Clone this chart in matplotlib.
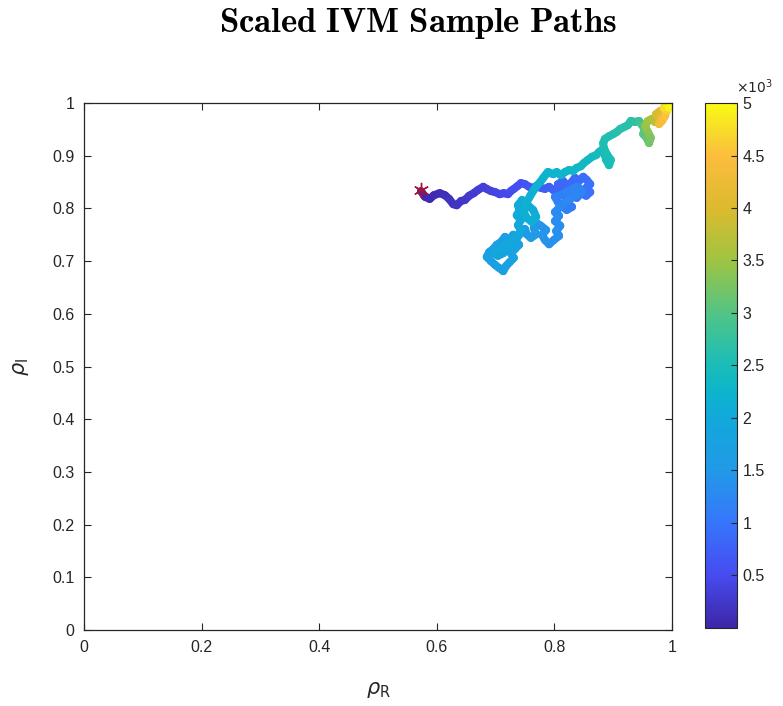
import numpy as np
import matplotlib
matplotlib.use("Agg")
import matplotlib.pyplot as plt
from matplotlib.collections import LineCollection
from matplotlib.colors import LinearSegmentedColormap, Normalize

# traced sample path (rho_R, rho_I) and the step index of each waypoint
rho_r = [
    # start, dark purple leg heading right
    0.573, 0.580, 0.588, 0.595, 0.605, 0.614, 0.621, 0.628, 0.634, 0.641, 0.648,
    0.655, 0.663, 0.670, 0.679, 0.685, 0.692, 0.699, 0.707, 0.714, 0.721, 0.726,
    0.731, 0.738, 0.743, 0.750, 0.757, 0.764, 0.770, 0.777, 0.784, 0.791, 0.798,
    # blue blob
    0.804, 0.811, 0.806, 0.815, 0.821, 0.828, 0.835, 0.842, 0.849, 0.855, 0.861,
    0.854, 0.861, 0.854, 0.845, 0.838, 0.832, 0.825, 0.818, 0.823, 0.830, 0.821,
    0.813, 0.806, 0.801, 0.810, 0.820, 0.830, 0.840, 0.847, 0.837, 0.827, 0.816, 0.808,
    # descending
    0.801, 0.808, 0.801, 0.810, 0.803, 0.808, 0.799, 0.791, 0.784, 0.779, 0.786,
    0.777, 0.770, 0.765, 0.769, 0.760, 0.753, 0.750,
    # light blue blob
    0.743, 0.736, 0.730, 0.723, 0.716, 0.709, 0.702, 0.696, 0.689, 0.685, 0.692,
    0.699, 0.706, 0.713, 0.718, 0.724, 0.731, 0.726, 0.733, 0.740, 0.735, 0.728,
    0.719, 0.713, 0.704, 0.697, 0.706, 0.714, 0.723, 0.730, 0.738,
    # teal rise
    0.743, 0.738, 0.743, 0.736, 0.741, 0.738, 0.745, 0.755, 0.764, 0.769, 0.762,
    0.753, 0.748, 0.752, 0.759, 0.765, 0.770, 0.776, 0.781, 0.786,
    # teal run to the corner
    0.789, 0.798, 0.804, 0.811, 0.818, 0.825, 0.832, 0.838, 0.845, 0.850, 0.857,
    0.864, 0.871, 0.876, 0.881, 0.886, 0.888, 0.893, 0.896, 0.889, 0.884, 0.883,
    0.886, 0.893, 0.900, 0.906, 0.912, 0.918, 0.925, 0.930, 0.937, 0.944,
    # green
    0.949, 0.954, 0.951, 0.957, 0.961, 0.964, 0.959, 0.954, 0.959, 0.966,
    # orange / yellow
    0.971, 0.976, 0.973, 0.980, 0.985, 0.981, 0.978, 0.983, 0.988, 0.991, 0.986,
    0.991, 0.995, 0.998, 1.000,
]
rho_i = [
    0.833, 0.822, 0.818, 0.825, 0.829, 0.825, 0.818, 0.808, 0.806, 0.814, 0.816,
    0.824, 0.829, 0.835, 0.841, 0.837, 0.833, 0.831, 0.827, 0.829, 0.827, 0.833,
    0.837, 0.843, 0.848, 0.846, 0.841, 0.839, 0.843, 0.839, 0.837, 0.841, 0.835,
    0.829, 0.839, 0.846, 0.852, 0.843, 0.848, 0.858, 0.852, 0.860, 0.854, 0.846,
    0.839, 0.831, 0.824, 0.829, 0.820, 0.825, 0.816, 0.822, 0.810, 0.803, 0.797,
    0.804, 0.812, 0.822, 0.825, 0.831, 0.837, 0.841, 0.833, 0.825, 0.818, 0.810, 0.801,
    0.793, 0.786, 0.776, 0.767, 0.757, 0.748, 0.740, 0.732, 0.740, 0.750, 0.759,
    0.767, 0.772, 0.763, 0.751, 0.744, 0.751, 0.761,
    0.753, 0.744, 0.750, 0.740, 0.746, 0.736, 0.731, 0.723, 0.717, 0.708, 0.700,
    0.693, 0.687, 0.681, 0.691, 0.698, 0.706, 0.715, 0.723, 0.731, 0.738, 0.731,
    0.723, 0.715, 0.710, 0.715, 0.723, 0.729, 0.734, 0.742, 0.748,
    0.759, 0.768, 0.778, 0.787, 0.797, 0.806, 0.816, 0.806, 0.797, 0.784, 0.774,
    0.782, 0.793, 0.810, 0.824, 0.835, 0.843, 0.850, 0.858, 0.865,
    0.869, 0.865, 0.869, 0.863, 0.869, 0.873, 0.871, 0.877, 0.880, 0.886, 0.892,
    0.898, 0.901, 0.907, 0.911, 0.901, 0.892, 0.882, 0.892, 0.903, 0.915, 0.924,
    0.932, 0.937, 0.941, 0.945, 0.951, 0.954, 0.958, 0.966, 0.964, 0.966,
    0.958, 0.951, 0.941, 0.934, 0.924, 0.934, 0.945, 0.956, 0.966, 0.970,
    0.964, 0.972, 0.979, 0.985, 0.979, 0.970, 0.960, 0.966, 0.975, 0.985, 0.991,
    0.996, 0.991, 0.998, 1.000,
]
step = [
    0, 20, 45, 65, 90, 110, 135, 160, 180, 205, 230,
    250, 275, 300, 320, 345, 370, 390, 415, 440, 460, 485,
    510, 530, 555, 580, 600, 625, 650, 670, 695, 720, 750,
    775, 790, 805, 820, 835, 850, 865, 880, 895, 910, 925,
    940, 955, 970, 985, 1000, 1015, 1030, 1045, 1060, 1075, 1090,
    1105, 1120, 1135, 1150, 1165, 1180, 1195, 1210, 1225, 1240, 1250, 1260,
    1280, 1295, 1310, 1325, 1340, 1355, 1370, 1385, 1400, 1415, 1430,
    1445, 1460, 1475, 1490, 1510, 1530, 1550,
    1570, 1583, 1596, 1609, 1622, 1635, 1648, 1661, 1674, 1687, 1700,
    1713, 1726, 1739, 1752, 1765, 1778, 1791, 1804, 1817, 1830, 1843,
    1856, 1869, 1882, 1895, 1908, 1921, 1934, 1947, 1960,
    1975, 1987, 2000, 2012, 2025, 2037, 2050, 2062, 2075, 2087, 2100,
    2112, 2125, 2137, 2150, 2160, 2170, 2180, 2190, 2200,
    2215, 2230, 2245, 2260, 2275, 2290, 2305, 2320, 2335, 2350, 2365,
    2380, 2395, 2410, 2425, 2440, 2455, 2470, 2485, 2500, 2515, 2530,
    2545, 2560, 2575, 2590, 2605, 2620, 2635, 2650, 2670, 2690,
    2800, 2880, 2960, 3040, 3120, 3200, 3280, 3360, 3440, 3520,
    3650, 3750, 3850, 3950, 4050, 4150, 4250, 4350, 4450, 4550, 4650,
    4750, 4850, 4930, 5000,
]
start_point = (0.573, 0.835)
cbar_ticks = [500, 1000, 1500, 2000, 2500, 3000, 3500, 4000, 4500, 5000]
cbar_labels = ["0.5", "1", "1.5", "2", "2.5", "3", "3.5", "4", "4.5", "5"]

# parula-like colormap
parula = LinearSegmentedColormap.from_list("parula", [
    (0.00, (0.2422, 0.1504, 0.6603)),
    (0.10, (0.2770, 0.2952, 0.9375)),
    (0.20, (0.2140, 0.4620, 0.9900)),
    (0.30, (0.1290, 0.6030, 0.9060)),
    (0.40, (0.0700, 0.6600, 0.8600)),
    (0.45, (0.0500, 0.7100, 0.8000)),
    (0.50, (0.1000, 0.7400, 0.7200)),
    (0.60, (0.3200, 0.7700, 0.5200)),
    (0.70, (0.6200, 0.7700, 0.2600)),
    (0.80, (0.8600, 0.7300, 0.1800)),
    (0.90, (0.9900, 0.7400, 0.2400)),
    (0.95, (0.9700, 0.8600, 0.1600)),
    (1.00, (0.9769, 0.9839, 0.0805)),
])

plt.rcParams["font.family"] = ["Liberation Sans", "DejaVu Sans"]
txt = "#262626"

fig = plt.figure(figsize=(7.83, 7.06), dpi=100)
ax = fig.add_axes([0.1073, 0.1076, 0.7509, 0.7465])
cax = fig.add_axes([0.900, 0.1105, 0.041, 0.7436])

x = np.array(rho_r)
y = np.array(rho_i)
t = np.array(step, dtype=float)
pts = np.column_stack([x, y]).reshape(-1, 1, 2)
segs = np.concatenate([pts[:-1], pts[1:]], axis=1)
norm = Normalize(0, 5000)
lc = LineCollection(segs, cmap=parula, norm=norm, linewidths=5.8,
                    capstyle="round", joinstyle="round")
lc.set_array(t[1:])
ax.add_collection(lc)

ax.plot(*start_point, marker=(6, 2, 0), color="#b0122e", markersize=11,
        markeredgewidth=1.0, linestyle="none", zorder=5)

ax.set_xlim(0, 1)
ax.set_ylim(0, 1)
ax.set_xticks([0, 0.2, 0.4, 0.6, 0.8, 1])
ax.set_xticklabels(["0", "0.2", "0.4", "0.6", "0.8", "1"])
ax.set_yticks(np.round(np.arange(0, 1.01, 0.1), 1))
ax.set_yticklabels(["0", "0.1", "0.2", "0.3", "0.4", "0.5", "0.6", "0.7", "0.8", "0.9", "1"])
ax.tick_params(direction="in", length=5, width=0.8, top=True, right=True,
               labelsize=11.5, colors=txt, pad=7)
for sp in ax.spines.values():
    sp.set_color(txt)
    sp.set_linewidth(0.9)

ax.set_xlabel(r"$\rho_{\mathrm{R}}$", fontsize=15, color=txt, labelpad=18,
              math_fontfamily="dejavusans")
ax.set_ylabel(r"$\rho_{\mathrm{I}}$", fontsize=15, color=txt, labelpad=15,
              math_fontfamily="dejavusans")

sm = plt.cm.ScalarMappable(norm=norm, cmap=parula)
cb = fig.colorbar(sm, cax=cax)
cb.set_ticks(cbar_ticks)
cb.set_ticklabels(cbar_labels)
cb.ax.tick_params(direction="in", length=4, width=0.8, labelsize=11.5,
                  colors=txt, pad=4)
cb.outline.set_edgecolor(txt)
cb.outline.set_linewidth(0.8)
fig.text(0.940, 0.864, r"$\times10^{3}$", fontsize=10, color=txt,
         va="bottom", math_fontfamily="dejavusans")

fig.text(0.534, 0.967, r"$\mathbf{Scaled\ IVM\ Sample\ Paths}$", fontsize=25,
         ha="center", va="center", math_fontfamily="cm")

fig.savefig("out.png", dpi=100)
